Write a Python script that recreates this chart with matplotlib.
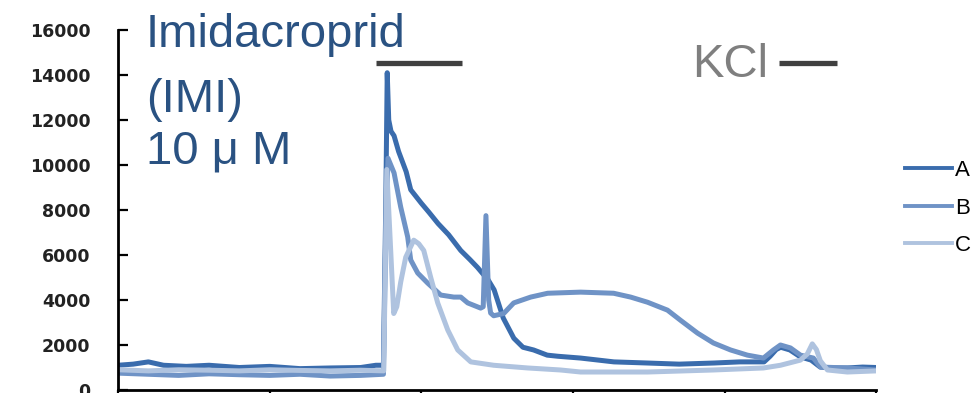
import matplotlib.pyplot as plt

# time axis (arbitrary units, ticks every 100)
xA = [0, 10, 20, 30, 45, 60, 80, 100, 120, 140, 160, 170, 175, 176.5, 177.5, 178.5,
      180, 182, 185, 190, 193, 200, 205, 211, 218, 226, 232, 237, 242, 244, 248, 254,
      261, 267, 274, 283, 290, 305, 327, 349, 370, 393, 410, 426, 430, 434, 437, 443,
      450, 457, 463, 472, 481, 491, 500]
yA = [1100, 1150, 1250, 1100, 1050, 1100, 1000, 1050, 950, 980, 1000, 1100, 1100, 8000,
      14100, 12000, 11500, 11300, 10600, 9700, 8900, 8300, 7900, 7400, 6900, 6200, 5800,
      5450, 5050, 4900, 4450, 3200, 2300, 1900, 1780, 1550, 1500, 1420, 1250, 1200, 1150,
      1200, 1250, 1250, 1500, 1800, 1900, 1780, 1470, 1330, 1020, 980, 980, 1020, 1000]

xB = [0, 20, 40, 60, 80, 100, 120, 140, 160, 175, 176.5, 178, 182, 186.4, 191, 193,
      197.6, 204.2, 212.8, 221.4, 226, 230.6, 239.1, 240.8, 242.6, 244.4, 245.7, 247.7,
      254.3, 260.9, 272.1, 283.3, 305, 326.8, 338, 349.2, 362.3, 370.9, 382.1, 392.6,
      403.9, 415, 425.6, 432.2, 436.8, 443.4, 450, 458.5, 463.1, 480.9, 500]
yB = [750, 700, 650, 720, 680, 650, 700, 620, 650, 700, 7000, 10300, 9650, 8130, 6800,
      5780, 5200, 4750, 4220, 4130, 4130, 3870, 3640, 3700, 7750, 4000, 3420, 3300,
      3400, 3870, 4130, 4300, 4350, 4300, 4130, 3900, 3550, 3100, 2530, 2090, 1780,
      1550, 1420, 1780, 2000, 1870, 1550, 1420, 1020, 980, 890]

xC = [0, 20, 40, 60, 80, 100, 120, 140, 160, 175.2, 177.2, 181.8, 183.8, 186.4, 189.7,
      195, 198.3, 201.6, 206.2, 210.8, 217.4, 224, 232.6, 247.7, 270.1, 291.8, 305,
      349.2, 392.6, 425.6, 436.8, 450, 454.5, 457.8, 460.5, 463.1, 467.8, 480.9, 500]
yC = [900, 850, 900, 880, 850, 900, 870, 850, 880, 850, 9800, 3400, 3700, 4800, 5900,
      6660, 6500, 6200, 5000, 3870, 2670, 1780, 1250, 1100, 980, 890, 800, 800, 890,
      980, 1100, 1330, 1600, 2050, 1800, 1300, 890, 800, 850]

# application periods (bars above the traces)
imi_period = (170, 227)
kcl_period = (436, 474)
bar_level = 14550

fig = plt.figure(figsize=(9.78, 3.93), dpi=100)
ax = fig.add_axes([0.1207, 0.0076, 0.7753, 0.9161])

ax.plot(xA, yA, color="#3A6CAD", lw=3.6, label="A")
ax.plot(xB, yB, color="#6F93C6", lw=3.6, label="B")
ax.plot(xC, yC, color="#AFC3DF", lw=3.6, label="C")

ax.hlines(bar_level, *imi_period, color="#404040", lw=3.8, clip_on=False)
ax.hlines(bar_level, *kcl_period, color="#404040", lw=3.8, clip_on=False)

ax.set_xlim(0, 500)
ax.set_ylim(0, 16000)
ax.set_xticks(range(0, 501, 100))
ax.set_xticklabels([])
ax.set_yticks(range(0, 16001, 2000))

for s in ["top", "right"]:
    ax.spines[s].set_visible(False)
for s in ["left", "bottom"]:
    ax.spines[s].set_linewidth(2)

ax.tick_params(axis="y", direction="in", length=7, width=1.6, pad=20,
               labelsize=12.5, labelcolor="#222222")
ax.tick_params(axis="x", direction="out", length=7, width=1.6)
for lab in ax.get_yticklabels():
    lab.set_fontweight("bold")

txt = dict(family="Liberation Sans", fontsize=34, color="#2A5282", va="baseline")
fig.text(0.1493, 0.8804, "Imidacroprid", **txt)
fig.text(0.1493, 0.715, "(IMI)", **txt)
fig.text(0.1493, 0.5852, "10 μ M", **txt)
fig.text(0.7076, 0.804, "KCl", family="Liberation Sans", fontsize=34,
         color="#7F7F7F", va="baseline")

leg = ax.legend(loc="center left", bbox_to_anchor=(0.9254, 0.4707),
                bbox_transform=fig.transFigure, frameon=False, borderpad=0,
                borderaxespad=0, handlelength=2.1, handletextpad=0.15,
                labelspacing=0.75, prop=dict(family="Liberation Sans", size=16))
for line in leg.get_lines():
    line.set_linewidth(2.8)

fig.savefig("out.png", dpi=100)
